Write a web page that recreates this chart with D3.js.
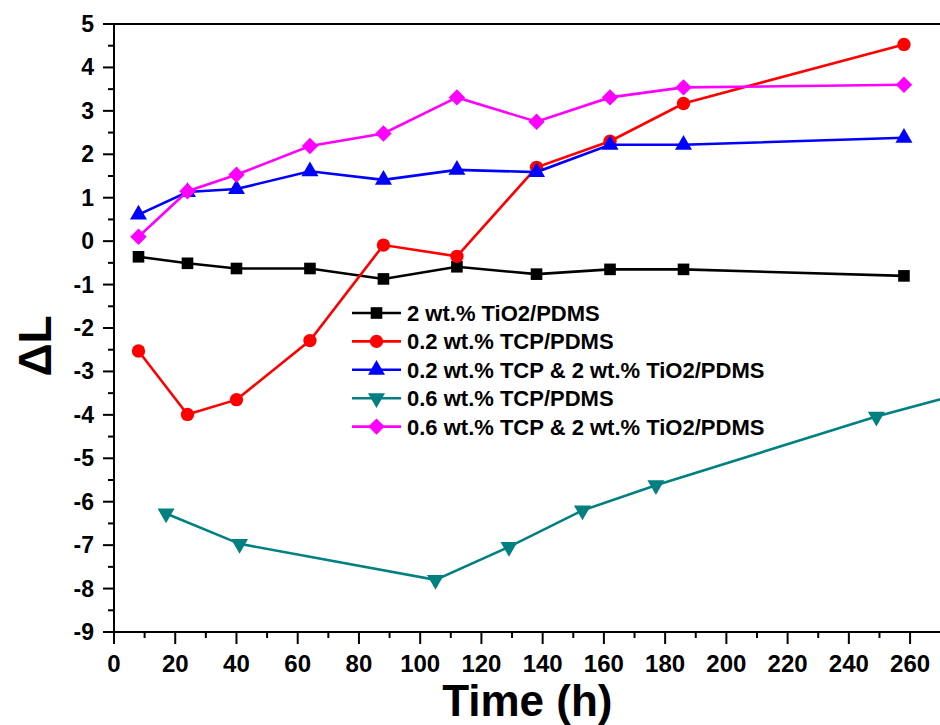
<!DOCTYPE html>
<html>
<head>
<meta charset="utf-8">
<script src="https://cdn.jsdelivr.net/npm/d3@7"></script>
<style>
  body { margin: 0; background: #fff; }
  svg { display: block; }
</style>
</head>
<body>
<div id="chart"></div>
<script>
// time points (h)
const tA = [8, 24, 40, 64, 88, 112, 138, 162, 186, 258];
const tTeal = [17, 41, 105, 129, 153, 177, 249, 273];

// ΔL values
const tio2 = [-0.36, -0.51, -0.63, -0.63, -0.87, -0.59, -0.76, -0.65, -0.65, -0.80];
const tcp02 = [-2.53, -3.99, -3.65, -2.29, -0.09, -0.35, 1.70, 2.30, 3.17, 4.53];
const tcp02tio2 = [0.61, 1.13, 1.20, 1.61, 1.41, 1.64, 1.59, 2.22, 2.22, 2.38];
const tcp06 = [-6.27, -6.97, -7.80, -7.04, -6.20, -5.62, -4.04, -3.58];
const tcp06tio2 = [0.10, 1.15, 1.53, 2.19, 2.48, 3.31, 2.75, 3.31, 3.54, 3.60];

const seriesNames = [
  "2 wt.% TiO2/PDMS",
  "0.2 wt.% TCP/PDMS",
  "0.2 wt.% TCP & 2 wt.% TiO2/PDMS",
  "0.6 wt.% TCP/PDMS",
  "0.6 wt.% TCP & 2 wt.% TiO2/PDMS"
];
const xTicks = d3.range(0, 261, 20);
const yTicks = d3.range(-9, 5.1, 1);

const W = 940, H = 725;
const font = "'Liberation Sans', Arial, sans-serif";

const series = [
  { name: seriesNames[0], t: tA, v: tio2, color: "#000000", sym: d3.symbolSquare, size: 135, rot: 0 },
  { name: seriesNames[1], t: tA, v: tcp02, color: "#ff0000", sym: d3.symbolCircle, size: 140, rot: 0 },
  { name: seriesNames[2], t: tA, v: tcp02tio2, color: "#0000ff", sym: d3.symbolTriangle, size: 125, rot: 0 },
  { name: seriesNames[3], t: tTeal, v: tcp06, color: "#008080", sym: d3.symbolTriangle, size: 125, rot: 180 },
  { name: seriesNames[4], t: tA, v: tcp06tio2, color: "#ff00ff", sym: d3.symbolSquare, size: 135, rot: 45 }
];

const x = d3.scaleLinear().domain([0, 270]).range([114, 940.7]);
const y = d3.scaleLinear().domain([-9, 5]).range([632, 24]);

const svg = d3.select("#chart").append("svg")
  .attr("width", W).attr("height", H)
  .style("font-family", font);

svg.append("defs").append("clipPath").attr("id", "plotClip")
  .append("rect")
  .attr("x", x.range()[0]).attr("y", y.range()[1])
  .attr("width", x.range()[1] - x.range()[0])
  .attr("height", y.range()[0] - y.range()[1]);

// frame top line
svg.append("line")
  .attr("x1", x.range()[0]).attr("x2", W)
  .attr("y1", y(5)).attr("y2", y(5))
  .attr("stroke", "#000").attr("stroke-width", 2);

// x axis
const xAxis = svg.append("g").attr("transform", `translate(0,${y(-9)})`);
xAxis.append("line")
  .attr("x1", x.range()[0]).attr("x2", W)
  .attr("stroke", "#000").attr("stroke-width", 2);
xAxis.selectAll(".minor").data(d3.range(10, 270, 20)).join("line")
  .attr("x1", d => x(d)).attr("x2", d => x(d))
  .attr("y1", 0).attr("y2", 6)
  .attr("stroke", "#000").attr("stroke-width", 2);
xAxis.selectAll(".major").data(xTicks).join("line")
  .attr("x1", d => x(d)).attr("x2", d => x(d))
  .attr("y1", 0).attr("y2", 12)
  .attr("stroke", "#000").attr("stroke-width", 2);
xAxis.selectAll("text").data(xTicks).join("text")
  .attr("x", d => x(d)).attr("y", 40)
  .attr("text-anchor", "middle")
  .attr("font-size", 24).attr("font-weight", "bold")
  .text(d => d);

// y axis
const yAxis = svg.append("g").attr("transform", `translate(${x(0)},0)`);
yAxis.append("line")
  .attr("y1", y(-9) + 1).attr("y2", y(5) - 1)
  .attr("stroke", "#000").attr("stroke-width", 2);
yAxis.selectAll(".minor").data(d3.range(-8.5, 5, 1)).join("line")
  .attr("y1", d => y(d)).attr("y2", d => y(d))
  .attr("x1", 0).attr("x2", -6)
  .attr("stroke", "#000").attr("stroke-width", 2);
yAxis.selectAll(".major").data(yTicks).join("line")
  .attr("y1", d => y(d)).attr("y2", d => y(d))
  .attr("x1", 0).attr("x2", -11)
  .attr("stroke", "#000").attr("stroke-width", 2);
yAxis.selectAll("text").data(yTicks).join("text")
  .attr("x", -20).attr("y", d => y(d) + 8)
  .attr("text-anchor", "end")
  .attr("font-size", 23).attr("font-weight", "bold")
  .text(d => d < 0 ? "-" + Math.abs(d) : d);

// axis titles
svg.append("text")
  .attr("x", (x.range()[0] + x.range()[1]) / 2).attr("y", 716)
  .attr("text-anchor", "middle")
  .attr("font-size", 44).attr("font-weight", "bold")
  .text("Time (h)");
svg.append("text")
  .attr("transform", "translate(51,346) rotate(-90)")
  .attr("text-anchor", "middle")
  .attr("font-size", 46).attr("font-weight", "bold")
  .text("ΔL");

// series
const plot = svg.append("g").attr("clip-path", "url(#plotClip)");
const line = d3.line().x(d => x(d[0])).y(d => y(d[1]));

series.forEach(s => {
  const pts = s.t.map((t, i) => [t, s.v[i]]);
  const g = plot.append("g");
  g.append("path").datum(pts)
    .attr("d", line)
    .attr("fill", "none")
    .attr("stroke", s.color).attr("stroke-width", 2.6);
  g.selectAll("path.mk").data(pts).join("path")
    .attr("class", "mk")
    .attr("transform", d => `translate(${x(d[0])},${y(d[1])}) rotate(${s.rot})`)
    .attr("d", d3.symbol(s.sym, s.size))
    .attr("fill", s.color);
});

// legend
const legend = svg.append("g").attr("transform", "translate(352,313)");
series.forEach((s, i) => {
  const row = legend.append("g").attr("transform", `translate(0,${i * 28.4})`);
  row.append("line")
    .attr("x1", 0).attr("x2", 49)
    .attr("stroke", s.color).attr("stroke-width", 2.6);
  row.append("path")
    .attr("transform", `translate(24.5,0) rotate(${s.rot})`)
    .attr("d", d3.symbol(s.sym, s.size))
    .attr("fill", s.color);
  row.append("text")
    .attr("x", 55).attr("y", 8)
    .attr("font-size", 22).attr("font-weight", "bold")
    .text(s.name);
});
</script>
</body>
</html>
